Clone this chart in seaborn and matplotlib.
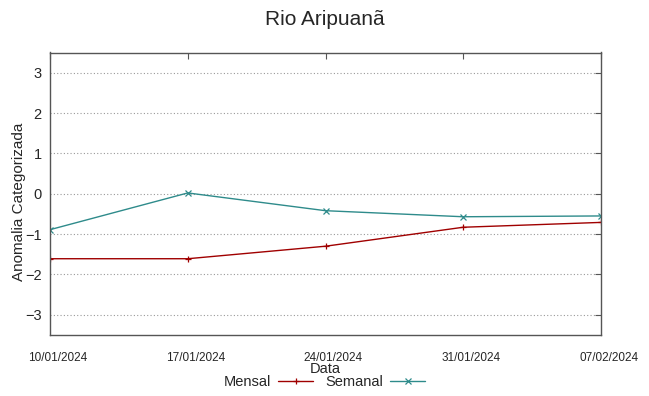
import pandas as pd
import seaborn as sns
import matplotlib
matplotlib.use("Agg")
import matplotlib.pyplot as plt
import matplotlib.dates as mdates
import matplotlib.transforms as mtransforms

# dados
datas = ["2024-01-10", "2024-01-17", "2024-01-24", "2024-01-31", "2024-02-07"]
mensal = [-1.61, -1.61, -1.30, -0.83, -0.71]
semanal = [-0.89, 0.02, -0.42, -0.57, -0.55]
series = ["Mensal", "Semanal"]
cores = {"Mensal": "#a00000", "Semanal": "#2e8b8b"}
marcadores = {"Mensal": "+", "Semanal": "x"}

df = pd.DataFrame({
    "Data": pd.to_datetime(datas).tolist() * 2,
    "valor": mensal + semanal,
    "serie": [series[0]] * len(datas) + [series[1]] * len(datas),
})

sns.set_style("white")
plt.rcParams["font.family"] = ["Liberation Sans", "DejaVu Sans"]

fig = plt.figure(figsize=(6.49, 3.96), dpi=100)
ax = fig.add_axes([50 / 649, 1 - 335 / 396, 551 / 649, (335 - 52.5) / 396])

sns.lineplot(data=df, x="Data", y="valor", hue="serie", style="serie",
             palette=cores, markers=marcadores, dashes=False, linewidth=1,
             markersize=5, markeredgewidth=0.9, ax=ax, legend=False)
# marcadores de linha (+ e x) precisam da cor da propria serie
for ln in ax.lines:
    ln.set_markeredgecolor(ln.get_color())

ax.set_xlim(pd.Timestamp(datas[0]), pd.Timestamp(datas[-1]))
ax.set_ylim(-3.5, 3.5)
ax.set_yticks(range(-3, 4))
ax.set_xticks(pd.to_datetime(datas))
ax.xaxis.set_major_formatter(mdates.DateFormatter("%d/%m/%Y"))
ax.tick_params(axis="x", labelsize=8.5, direction="in", length=4, top=True,
               pad=12, color="#555555")
ax.tick_params(axis="y", labelsize=10.5, direction="in", length=4, right=True,
               pad=6, color="#555555")
offset = mtransforms.ScaledTranslation(8 / 100, 0, fig.dpi_scale_trans)
for lbl in ax.get_xticklabels():
    lbl.set_transform(lbl.get_transform() + offset)

ax.yaxis.grid(True, linestyle=(0, (1, 2)), color="#999999", linewidth=0.8)
ax.xaxis.grid(False)
for s in ax.spines.values():
    s.set_color("#555555")
    s.set_linewidth(1)

ax.set_xlabel("Data", fontsize=10.5, labelpad=-1)
ax.set_ylabel("Anomalia Categorizada", fontsize=11)
ax.yaxis.set_label_coords(-24 / 551, 0.47)
fig.suptitle("Rio Aripuanã", fontsize=15, y=0.975)

handles = [plt.Line2D([], [], color=cores[s], marker=marcadores[s], lw=1,
                      markersize=5, markeredgewidth=0.9) for s in series]
fig.legend(handles, series, loc="center", bbox_to_anchor=(0.5, 1 - 382 / 396),
           ncol=2, frameon=False, markerfirst=False, fontsize=10.5,
           handlelength=2.4, handletextpad=0.5, columnspacing=0.8,
           borderaxespad=0)

fig.savefig("out.png", dpi=100)
